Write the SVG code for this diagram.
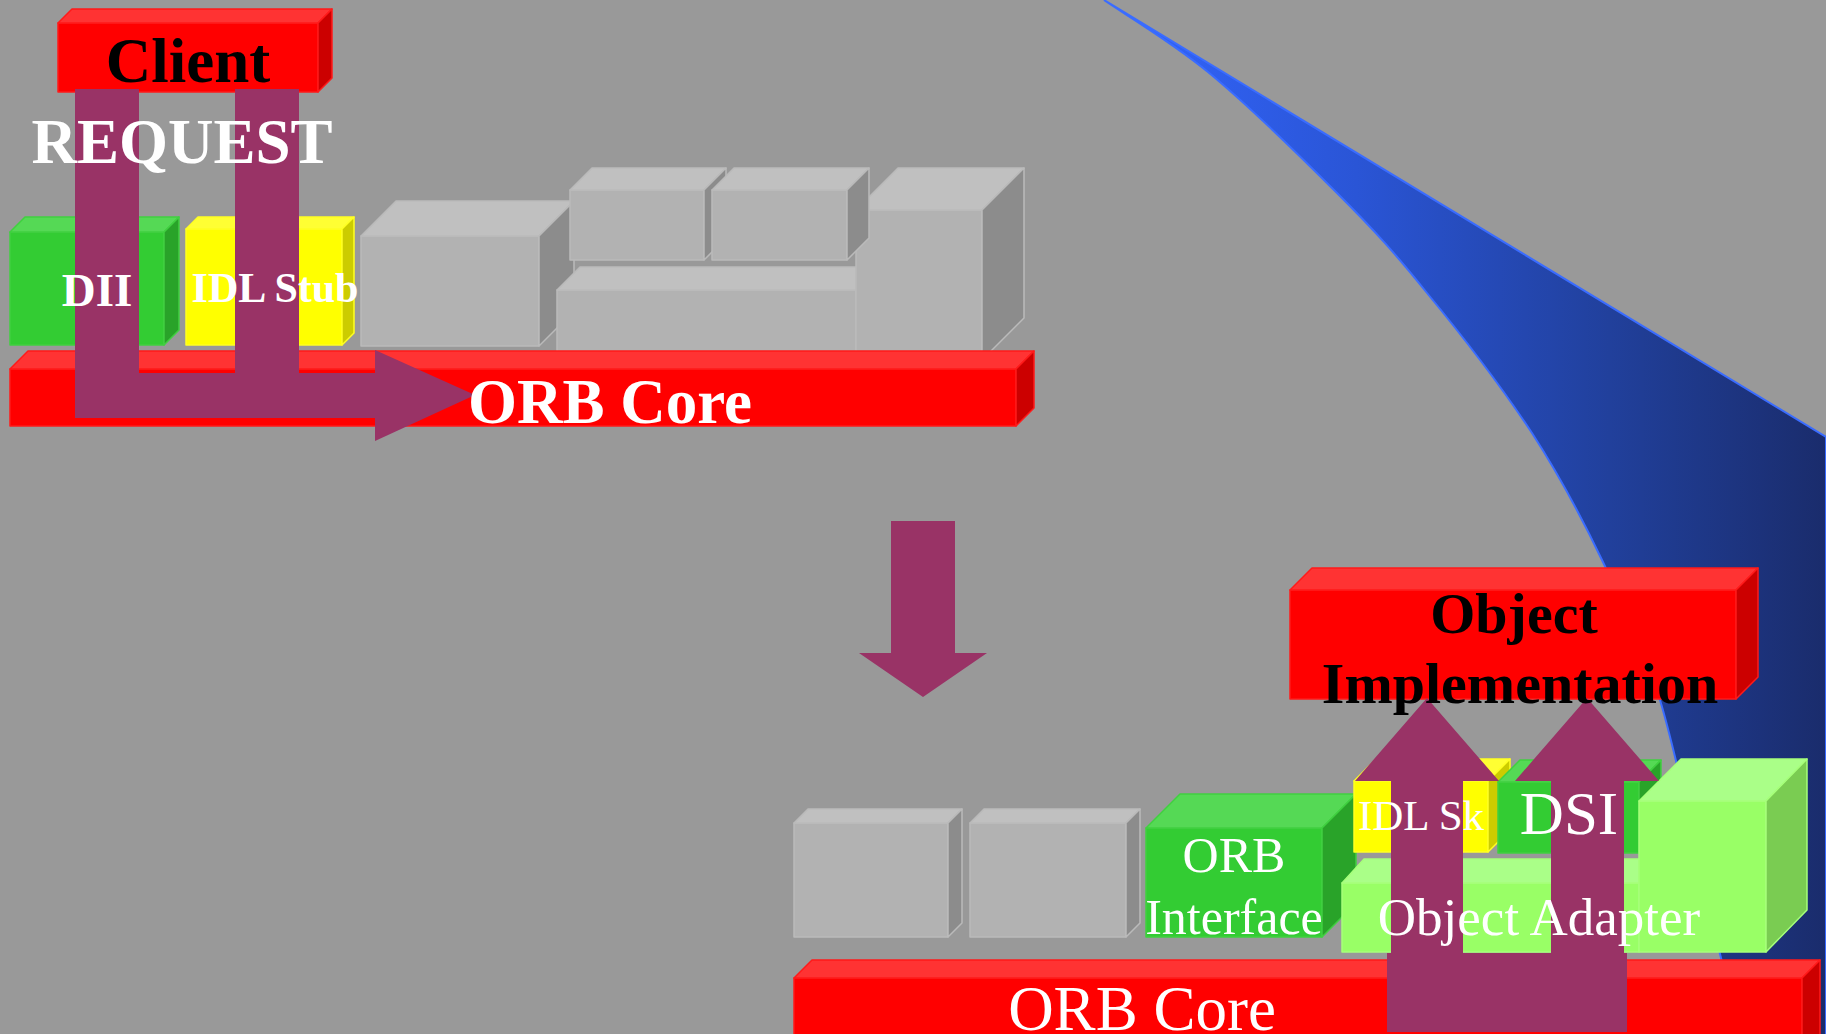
<svg xmlns="http://www.w3.org/2000/svg" width="1826" height="1034" viewBox="0 0 1826 1034">
  <defs>
    <linearGradient id="swooshFill" gradientUnits="userSpaceOnUse" x1="1104" y1="0" x2="1826" y2="0">
      <stop offset="0" stop-color="#3366ff"/>
      <stop offset="0.35" stop-color="#2a55d6"/>
      <stop offset="0.7" stop-color="#21409c"/>
      <stop offset="1" stop-color="#1a2c6c"/>
    </linearGradient>
  </defs>
  <style>
    .red .f { fill: #ff0000; } .red .t { fill: #ff3333; } .red .s { fill: #cc0000; }
    .red polygon, .red rect { stroke: #ff1a1a; stroke-width: 1.5; stroke-linejoin: round; }
    .grn .f { fill: #33cc33; } .grn .t { fill: #55d955; } .grn .s { fill: #29a329; }
    .grn polygon, .grn rect { stroke: #40d040; stroke-width: 1.5; stroke-linejoin: round; }
    .ylw .f { fill: #ffff00; } .ylw .t { fill: #ffff33; } .ylw .s { fill: #cccc00; }
    .ylw polygon, .ylw rect { stroke: #ffff22; stroke-width: 1.5; stroke-linejoin: round; }
    .gry .f { fill: #b2b2b2; } .gry .t { fill: #c0c0c0; } .gry .s { fill: #8c8c8c; }
    .gry polygon, .gry rect { stroke: #bababa; stroke-width: 1.5; stroke-linejoin: round; }
    .lgr .f { fill: #99ff66; } .lgr .t { fill: #aaff88; } .lgr .s { fill: #7acc52; }
    .lgr polygon, .lgr rect { stroke: #a6ff7a; stroke-width: 1.5; stroke-linejoin: round; }
    .flow { fill: #993366; }
    text { font-family: "Liberation Serif", "Times New Roman", serif; text-anchor: middle; }
    .blk { fill: #000000; font-weight: bold; }
    .wb { fill: #ffffff; font-weight: bold; }
    .wr { fill: #ffffff; }
  </style>

  <!-- backdrop -->
  <rect x="0" y="0" width="1826" height="1034" fill="#999999"/>

  <!-- blue swoosh sweeping down the right side -->
  <path id="swoosh" fill="url(#swooshFill)" stroke="#3a6cff" stroke-width="2"
        d="M1104,0 C1121,12 1169,40 1208,72 C1247,104 1300,156 1337,193 C1374,230 1395,253 1427,293 C1460,333 1503,389 1532,433 C1561,478 1581,516 1602,560 C1623,605 1640,634 1660,700 C1680,766 1707,901 1721,958 C1735,1015 1741,1026 1745,1040 L1826,1040 L1826,437 Z"/>

  <!-- client side stack -->
  <g id="client" class="red">
    <rect class="f" x="58" y="23" width="260" height="69"/>
    <polygon class="t" points="58,23 72,9 332,9 318,23"/>
    <polygon class="s" points="318,23 332,9 332,78 318,92"/>
  </g>
  <g id="dii" class="grn">
    <rect class="f" x="10" y="232" width="154" height="113"/>
    <polygon class="t" points="10,232 25,217 179,217 164,232"/>
    <polygon class="s" points="164,232 179,217 179,330 164,345"/>
  </g>
  <g id="idl-stub" class="ylw">
    <rect class="f" x="186" y="229" width="156" height="116"/>
    <polygon class="t" points="186,229 198,217 354,217 342,229"/>
    <polygon class="s" points="342,229 354,217 354,333 342,345"/>
  </g>
  <g id="client-block-1" class="gry">
    <rect class="f" x="361" y="236" width="178" height="110"/>
    <polygon class="t" points="361,236 396,201 574,201 539,236"/>
    <polygon class="s" points="539,236 574,201 574,311 539,346"/>
  </g>
  <g id="client-block-L" class="gry">
    <rect class="f" x="557" y="290" width="299" height="70"/>
    <polygon class="t" points="557,290 580,267 856,267 856,290"/>
    <rect class="f" x="856" y="210" width="126" height="150"/>
    <polygon class="t" points="856,210 898,168 1024,168 982,210"/>
    <polygon class="s" points="982,210 1024,168 1024,318 982,360"/>
  </g>
  <g id="client-block-2" class="gry">
    <rect class="f" x="570" y="190" width="134" height="70"/>
    <polygon class="t" points="570,190 592,168 726,168 704,190"/>
    <polygon class="s" points="704,190 726,168 726,238 704,260"/>
  </g>
  <g id="client-block-3" class="gry">
    <rect class="f" x="712" y="190" width="135" height="70"/>
    <polygon class="t" points="712,190 734,168 869,168 847,190"/>
    <polygon class="s" points="847,190 869,168 869,238 847,260"/>
  </g>
  <g id="orb-core-client" class="red">
    <rect class="f" x="10" y="369" width="1006" height="57"/>
    <polygon class="t" points="10,369 28,351 1034,351 1016,369"/>
    <polygon class="s" points="1016,369 1034,351 1034,408 1016,426"/>
  </g>

  <!-- server side stack -->
  <g id="object-implementation" class="red">
    <rect class="f" x="1290" y="590" width="446" height="109"/>
    <polygon class="t" points="1290,590 1312,568 1758,568 1736,590"/>
    <polygon class="s" points="1736,590 1758,568 1758,677 1736,699"/>
  </g>
  <g id="server-block-1" class="gry">
    <rect class="f" x="794" y="823" width="154" height="114"/>
    <polygon class="t" points="794,823 808,809 962,809 948,823"/>
    <polygon class="s" points="948,823 962,809 962,923 948,937"/>
  </g>
  <g id="server-block-2" class="gry">
    <rect class="f" x="970" y="823" width="156" height="114"/>
    <polygon class="t" points="970,823 984,809 1140,809 1126,823"/>
    <polygon class="s" points="1126,823 1140,809 1140,923 1126,937"/>
  </g>
  <g id="orb-interface" class="grn">
    <rect class="f" x="1146" y="828" width="176" height="109"/>
    <polygon class="t" points="1146,828 1180,794 1356,794 1322,828"/>
    <polygon class="s" points="1322,828 1356,794 1356,903 1322,937"/>
  </g>
  <g id="idl-skeleton" class="ylw">
    <rect class="f" x="1354" y="781" width="134" height="71"/>
    <polygon class="t" points="1354,781 1376,759 1510,759 1488,781"/>
    <polygon class="s" points="1488,781 1510,759 1510,830 1488,852"/>
  </g>
  <g id="dsi" class="grn">
    <rect class="f" x="1498" y="782" width="141" height="71"/>
    <polygon class="t" points="1498,782 1520,760 1661,760 1639,782"/>
    <polygon class="s" points="1639,782 1661,760 1661,831 1639,853"/>
  </g>
  <g id="object-adapter" class="lgr">
    <rect class="f" x="1342" y="883" width="297" height="69"/>
    <polygon class="t" points="1342,883 1364,859 1639,859 1639,883"/>
    <rect class="f" x="1639" y="801" width="127" height="151"/>
    <polygon class="t" points="1639,801 1681,759 1807,759 1766,801"/>
    <polygon class="s" points="1766,801 1807,759 1807,910 1766,952"/>
  </g>
  <g id="orb-core-server" class="red">
    <rect class="f" x="794" y="978" width="1008" height="70"/>
    <polygon class="t" points="794,978 812,960 1820,960 1802,978"/>
    <polygon class="s" points="1802,978 1820,960 1820,1040 1802,1058"/>
  </g>

  <!-- request flow arrows -->
  <g id="connectors">
    <path class="flow" d="M75,89 H139 V373 H235 V89 H299 V373 H375 V350 L475,395 L375,441 V418 H75 Z"/>
    <path class="flow" d="M891,521 H955 V653 H987 L923,697 L859,653 H891 Z"/>
    <path class="flow" d="M1387,1032 V953 H1391 V781 H1355 L1427,698 L1499,781 H1463 V953 H1551 V781 H1515 L1587,698 L1659,781 H1624 V953 H1627 V1032 Z"/>
  </g>

  <!-- labels -->
  <g id="labels">
    <text class="blk" x="188" y="82" font-size="63">Client</text>
    <text class="wb" x="182" y="163" font-size="63">REQUEST</text>
    <text class="wb" x="97" y="306" font-size="47">DII</text>
    <text class="wb" x="275" y="302" font-size="42">IDL Stub</text>
    <text class="wb" x="610" y="423" font-size="63">ORB Core</text>
    <text class="blk" x="1514" y="633" font-size="58">Object</text>
    <text class="blk" x="1520" y="703" font-size="58">Implementation</text>
    <text class="wr" x="1234" y="872" font-size="50">ORB</text>
    <text class="wr" x="1234" y="934" font-size="50">Interface</text>
    <text class="wr" x="1421" y="830" font-size="43">IDL Sk</text>
    <text class="wr" x="1569" y="834" font-size="61">DSI</text>
    <text class="wr" x="1539" y="935" font-size="53">Object Adapter</text>
    <text class="wr" x="1142" y="1030" font-size="63">ORB Core</text>
  </g>
</svg>
